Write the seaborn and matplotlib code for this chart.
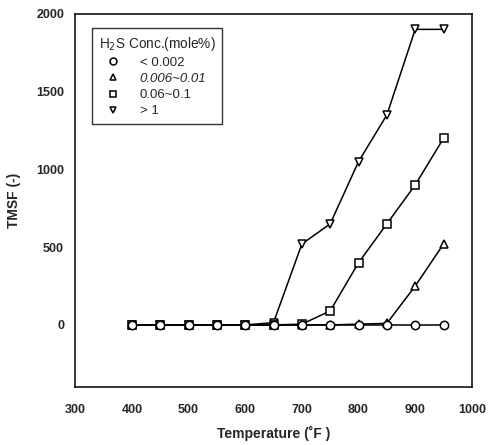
import numpy as np
import pandas as pd
import matplotlib
matplotlib.use("Agg")
import matplotlib.pyplot as plt
import seaborn as sns

sns.set_theme(style="white")
plt.rcParams['font.family'] = ['Liberation Sans', 'DejaVu Sans']

temperature = [400, 450, 500, 550, 600, 650, 700, 750, 800, 850, 900, 950]
conc_labels = ["< 0.002", "0.006~0.01", "0.06~0.1", "> 1"]
tmsf_lt_0002 = [0, 0, 0, 0, 0, 0, 0, 0, 0, 0, 0, 0]
tmsf_0006_001 = [0, 0, 0, 0, 0, 0, 0, 0, 5, 10, 250, 520]
tmsf_006_01 = [0, 0, 0, 0, 0, 0, 5, 90, 400, 650, 900, 1200]
tmsf_gt_1 = [0, 0, 0, 0, 0, 15, 520, 650, 1050, 1350, 1900, 1900]
marker_shapes = ["o", "^", "s", "v"]

series = [tmsf_lt_0002, tmsf_0006_001, tmsf_006_01, tmsf_gt_1]
df = pd.concat(
    [pd.DataFrame({"T": temperature, "TMSF": vals, "conc": lab})
     for lab, vals in zip(conc_labels, series)],
    ignore_index=True,
)

fig = plt.figure(figsize=(4.88, 4.45), dpi=100)
ax = fig.add_axes([0.154, 0.130, 0.813, 0.839])

# draw highest concentration first so low-level markers sit on top at zero
for lab, mk in reversed(list(zip(conc_labels, marker_shapes))):
    sub = df[df["conc"] == lab]
    sns.lineplot(data=sub, x="T", y="TMSF", ax=ax, color="black", linewidth=1.1,
                 marker=mk, markersize=6, markerfacecolor="white",
                 markeredgecolor="black", markeredgewidth=1.1, label=lab)

ax.set_xlim(300, 1000)
ax.set_ylim(-400, 2000)
ax.set_xticks(np.arange(300, 1001, 100))
ax.set_yticks([0, 500, 1000, 1500, 2000])
ax.tick_params(axis="both", direction="in", length=3, width=0.8, labelsize=9)
ax.tick_params(axis="x", pad=12)
ax.tick_params(axis="y", pad=8)
for t in ax.get_xticklabels() + ax.get_yticklabels():
    t.set_fontweight("bold")
for s in ax.spines.values():
    s.set_color("black")
    s.set_linewidth(1.1)

ax.set_xlabel("Temperature (\u02daF )", fontsize=10, fontweight="bold", labelpad=7)
ax.set_ylabel("TMSF (-)", fontsize=10, fontweight="bold", labelpad=11)

handles, labels = ax.get_legend_handles_labels()
order = [labels.index(l) for l in conc_labels]
leg = ax.legend([handles[i] for i in order], conc_labels,
                title="H$_2$S Conc.(mole%)", loc="upper left",
                bbox_to_anchor=(0.043, 0.962), borderaxespad=0,
                frameon=True, fancybox=False,
                edgecolor="black", fontsize=9.5, title_fontsize=9.8,
                handlelength=2.2, handletextpad=0.9, borderpad=0.5,
                labelspacing=0.3)
leg.get_frame().set_linewidth(1.0)
leg._legend_box.align = "left"
for h in leg.legend_handles:
    h.set_linestyle("none")
    h.set_markersize(5)
for i, t in enumerate(leg.get_texts()):
    t.set_fontweight("medium")
    if i == 1:
        t.set_fontstyle("italic")
leg.get_title().set_fontweight("medium")

fig.savefig("out.png", dpi=100)
